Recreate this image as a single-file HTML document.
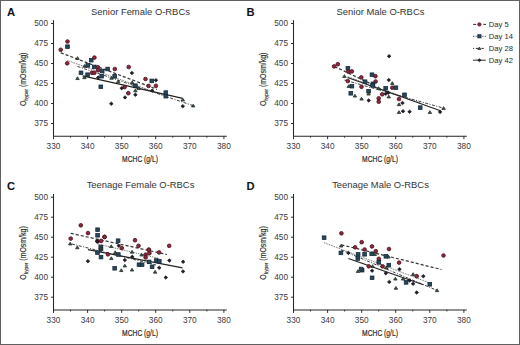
<!DOCTYPE html>
<html><head><meta charset="utf-8"><style>
html,body{margin:0;padding:0;background:#fff;}
.f{position:relative;width:520px;height:345px;box-sizing:border-box;border:1px solid #606060;overflow:hidden;background:#fff;}
svg{position:absolute;left:-1px;top:-1px;}
text{font-family:"Liberation Sans", sans-serif;}
</style></head><body><div class="f">
<svg width="520" height="345" viewBox="0 0 520 345" font-family='"Liberation Sans", sans-serif'>
<g transform="translate(0,0)">
<text x="7.1" y="16.2" font-size="11.2" font-weight="bold" fill="#111">A</text>
<text x="140.5" y="14.8" font-size="9.42" text-anchor="middle" fill="#333">Senior Female O-RBCs</text>
<path d="M53.5 20.2V136.2H226.8" fill="none" stroke="#262626" stroke-width="1.05"/>
<path d="M51 123.5H53.5" stroke="#1a1a1a" stroke-width="0.9"/>
<text x="48" y="126.3" font-size="8.25" text-anchor="end" fill="#3a3a3a">375</text>
<path d="M51 103.5H53.5" stroke="#1a1a1a" stroke-width="0.9"/>
<text x="48" y="106.3" font-size="8.25" text-anchor="end" fill="#3a3a3a">400</text>
<path d="M51 83.5H53.5" stroke="#1a1a1a" stroke-width="0.9"/>
<text x="48" y="86.3" font-size="8.25" text-anchor="end" fill="#3a3a3a">425</text>
<path d="M51 63.5H53.5" stroke="#1a1a1a" stroke-width="0.9"/>
<text x="48" y="66.3" font-size="8.25" text-anchor="end" fill="#3a3a3a">450</text>
<path d="M51 43.5H53.5" stroke="#1a1a1a" stroke-width="0.9"/>
<text x="48" y="46.3" font-size="8.25" text-anchor="end" fill="#3a3a3a">475</text>
<path d="M51 23.5H53.5" stroke="#1a1a1a" stroke-width="0.9"/>
<text x="48" y="26.3" font-size="8.25" text-anchor="end" fill="#3a3a3a">500</text>
<path d="M53.5 136.2V139.2" stroke="#1a1a1a" stroke-width="0.9"/>
<text x="53.5" y="149.2" font-size="8.25" text-anchor="middle" fill="#3a3a3a">330</text>
<path d="M70.5 136.2V137.7" stroke="#1a1a1a" stroke-width="0.9"/>
<path d="M87.6 136.2V139.2" stroke="#1a1a1a" stroke-width="0.9"/>
<text x="87.6" y="149.2" font-size="8.25" text-anchor="middle" fill="#3a3a3a">340</text>
<path d="M104.6 136.2V137.7" stroke="#1a1a1a" stroke-width="0.9"/>
<path d="M121.7 136.2V139.2" stroke="#1a1a1a" stroke-width="0.9"/>
<text x="121.7" y="149.2" font-size="8.25" text-anchor="middle" fill="#3a3a3a">350</text>
<path d="M138.7 136.2V137.7" stroke="#1a1a1a" stroke-width="0.9"/>
<path d="M155.7 136.2V139.2" stroke="#1a1a1a" stroke-width="0.9"/>
<text x="155.7" y="149.2" font-size="8.25" text-anchor="middle" fill="#3a3a3a">360</text>
<path d="M172.8 136.2V137.7" stroke="#1a1a1a" stroke-width="0.9"/>
<path d="M189.8 136.2V139.2" stroke="#1a1a1a" stroke-width="0.9"/>
<text x="189.8" y="149.2" font-size="8.25" text-anchor="middle" fill="#3a3a3a">370</text>
<path d="M206.9 136.2V137.7" stroke="#1a1a1a" stroke-width="0.9"/>
<path d="M223.9 136.2V139.2" stroke="#1a1a1a" stroke-width="0.9"/>
<text x="223.9" y="149.2" font-size="8.25" text-anchor="middle" fill="#3a3a3a">380</text>
<text x="0" y="0" font-size="8.4" text-anchor="middle" fill="#2a2a2a" stroke="#2a2a2a" stroke-width="0.2" transform="translate(140,161.9) scale(0.8,1)">MCHC (g/L)</text>
<text x="0" y="0" font-size="9" text-anchor="middle" fill="#2a2a2a" stroke="#2a2a2a" stroke-width="0.15" transform="translate(26.3,79.3) rotate(-90) scale(0.775,1)">O<tspan font-size="6" dy="1.6">hyper</tspan><tspan dy="-1.6"> (mOsm/kg)</tspan></text>
</g>
<path d="M60.8 52.8L157 89.3" stroke="#383838" stroke-width="1.25" stroke-dasharray="3.1 2.0"/>
<path d="M67.5 60.5L165.8 96" stroke="#555" stroke-width="0.95" stroke-dasharray="0.9 0.9"/>
<path d="M77.5 66.4L193.2 105.7" stroke="#333" stroke-width="0.95" stroke-dasharray="3 1.5 1 1.5"/>
<path d="M82.6 75.9L182.8 98.3" stroke="#222" stroke-width="1.2"/>
<circle cx="67.5" cy="41.5" r="1.85" fill="#8a2a3b" stroke="#4e0f1f" stroke-width="0.8"/>
<rect x="65.65" y="44.90" width="3.7" height="3.6" fill="#25485d" stroke="#132536" stroke-width="0.75"/>
<circle cx="60.7" cy="49.8" r="1.85" fill="#8a2a3b" stroke="#4e0f1f" stroke-width="0.8"/>
<circle cx="67.2" cy="63.3" r="1.85" fill="#8a2a3b" stroke="#4e0f1f" stroke-width="0.8"/>
<path d="M77.50 56.65L79.25 59.45L75.75 59.45Z" fill="#3e5a46" stroke="#1c2a20" stroke-width="0.75" stroke-linejoin="round"/>
<circle cx="94.4" cy="57.6" r="1.85" fill="#8a2a3b" stroke="#4e0f1f" stroke-width="0.8"/>
<rect x="89.35" y="58.40" width="3.7" height="3.6" fill="#25485d" stroke="#132536" stroke-width="0.75"/>
<path d="M84.60 64.45L86.35 67.25L82.85 67.25Z" fill="#3e5a46" stroke="#1c2a20" stroke-width="0.75" stroke-linejoin="round"/>
<rect x="85.95" y="63.60" width="3.7" height="3.6" fill="#25485d" stroke="#132536" stroke-width="0.75"/>
<rect x="92.45" y="65.10" width="3.7" height="3.6" fill="#25485d" stroke="#132536" stroke-width="0.75"/>
<circle cx="98.0" cy="67.3" r="1.85" fill="#8a2a3b" stroke="#4e0f1f" stroke-width="0.8"/>
<circle cx="98.1" cy="70.2" r="1.85" fill="#8a2a3b" stroke="#4e0f1f" stroke-width="0.8"/>
<rect x="100.35" y="69.20" width="3.7" height="3.6" fill="#25485d" stroke="#132536" stroke-width="0.75"/>
<rect x="105.85" y="67.20" width="3.7" height="3.6" fill="#25485d" stroke="#132536" stroke-width="0.75"/>
<circle cx="114.8" cy="69.0" r="1.85" fill="#8a2a3b" stroke="#4e0f1f" stroke-width="0.8"/>
<rect x="79.15" y="71.00" width="3.7" height="3.6" fill="#25485d" stroke="#132536" stroke-width="0.75"/>
<circle cx="92.0" cy="72.8" r="1.85" fill="#8a2a3b" stroke="#4e0f1f" stroke-width="0.8"/>
<circle cx="94.4" cy="72.8" r="1.85" fill="#8a2a3b" stroke="#4e0f1f" stroke-width="0.8"/>
<rect x="85.75" y="72.90" width="3.7" height="3.6" fill="#25485d" stroke="#132536" stroke-width="0.75"/>
<rect x="99.85" y="74.40" width="3.7" height="3.6" fill="#25485d" stroke="#132536" stroke-width="0.75"/>
<path d="M98.20 75.85L100.05 77.60L98.20 79.35L96.35 77.60Z" fill="#241a2a" stroke="#100b12" stroke-width="0.6" stroke-linejoin="round"/>
<path d="M77.50 76.75L79.25 79.55L75.75 79.55Z" fill="#3e5a46" stroke="#1c2a20" stroke-width="0.75" stroke-linejoin="round"/>
<path d="M84.40 75.85L86.15 78.65L82.65 78.65Z" fill="#3e5a46" stroke="#1c2a20" stroke-width="0.75" stroke-linejoin="round"/>
<path d="M111.50 76.45L113.25 79.25L109.75 79.25Z" fill="#3e5a46" stroke="#1c2a20" stroke-width="0.75" stroke-linejoin="round"/>
<rect x="112.85" y="74.50" width="3.7" height="3.6" fill="#25485d" stroke="#132536" stroke-width="0.75"/>
<path d="M118.20 80.05L119.95 82.85L116.45 82.85Z" fill="#3e5a46" stroke="#1c2a20" stroke-width="0.75" stroke-linejoin="round"/>
<rect x="98.95" y="85.00" width="3.7" height="3.6" fill="#25485d" stroke="#132536" stroke-width="0.75"/>
<circle cx="128.7" cy="67.0" r="1.85" fill="#8a2a3b" stroke="#4e0f1f" stroke-width="0.8"/>
<path d="M131.90 71.25L133.75 73.00L131.90 74.75L130.05 73.00Z" fill="#241a2a" stroke="#100b12" stroke-width="0.6" stroke-linejoin="round"/>
<circle cx="145.5" cy="79.0" r="1.85" fill="#8a2a3b" stroke="#4e0f1f" stroke-width="0.8"/>
<rect x="149.95" y="79.10" width="3.7" height="3.6" fill="#25485d" stroke="#132536" stroke-width="0.75"/>
<path d="M155.90 78.45L157.75 80.20L155.90 81.95L154.05 80.20Z" fill="#241a2a" stroke="#100b12" stroke-width="0.6" stroke-linejoin="round"/>
<rect x="133.55" y="83.90" width="3.7" height="3.6" fill="#25485d" stroke="#132536" stroke-width="0.75"/>
<path d="M132.20 80.85L133.95 83.65L130.45 83.65Z" fill="#3e5a46" stroke="#1c2a20" stroke-width="0.75" stroke-linejoin="round"/>
<circle cx="148.5" cy="85.9" r="1.85" fill="#8a2a3b" stroke="#4e0f1f" stroke-width="0.8"/>
<circle cx="155.9" cy="85.8" r="1.85" fill="#8a2a3b" stroke="#4e0f1f" stroke-width="0.8"/>
<circle cx="124.6" cy="87.1" r="1.85" fill="#8a2a3b" stroke="#4e0f1f" stroke-width="0.8"/>
<path d="M121.70 86.45L123.55 88.20L121.70 89.95L119.85 88.20Z" fill="#241a2a" stroke="#100b12" stroke-width="0.6" stroke-linejoin="round"/>
<path d="M138.70 86.75L140.45 89.55L136.95 89.55Z" fill="#3e5a46" stroke="#1c2a20" stroke-width="0.75" stroke-linejoin="round"/>
<path d="M152.20 88.85L154.05 90.60L152.20 92.35L150.35 90.60Z" fill="#241a2a" stroke="#100b12" stroke-width="0.6" stroke-linejoin="round"/>
<path d="M135.40 89.05L137.15 91.85L133.65 91.85Z" fill="#3e5a46" stroke="#1c2a20" stroke-width="0.75" stroke-linejoin="round"/>
<circle cx="128.3" cy="93.2" r="1.85" fill="#8a2a3b" stroke="#4e0f1f" stroke-width="0.8"/>
<path d="M135.40 93.05L137.25 94.80L135.40 96.55L133.55 94.80Z" fill="#241a2a" stroke="#100b12" stroke-width="0.6" stroke-linejoin="round"/>
<rect x="163.95" y="90.80" width="3.7" height="3.6" fill="#25485d" stroke="#132536" stroke-width="0.75"/>
<rect x="163.95" y="94.40" width="3.7" height="3.6" fill="#25485d" stroke="#132536" stroke-width="0.75"/>
<path d="M125.00 95.65L126.85 97.40L125.00 99.15L123.15 97.40Z" fill="#241a2a" stroke="#100b12" stroke-width="0.6" stroke-linejoin="round"/>
<path d="M111.30 101.95L113.15 103.70L111.30 105.45L109.45 103.70Z" fill="#241a2a" stroke="#100b12" stroke-width="0.6" stroke-linejoin="round"/>
<path d="M182.80 98.15L184.55 100.95L181.05 100.95Z" fill="#3e5a46" stroke="#1c2a20" stroke-width="0.75" stroke-linejoin="round"/>
<path d="M182.80 104.45L184.65 106.20L182.80 107.95L180.95 106.20Z" fill="#241a2a" stroke="#100b12" stroke-width="0.6" stroke-linejoin="round"/>
<path d="M193.20 104.15L194.95 106.95L191.45 106.95Z" fill="#3e5a46" stroke="#1c2a20" stroke-width="0.75" stroke-linejoin="round"/>
<g transform="translate(240,0)">
<text x="6.6" y="16.2" font-size="11.2" font-weight="bold" fill="#111">B</text>
<text x="140.5" y="14.8" font-size="9.42" text-anchor="middle" fill="#333">Senior Male O-RBCs</text>
<path d="M53.5 20.2V136.2H226.8" fill="none" stroke="#262626" stroke-width="1.05"/>
<path d="M51 123.5H53.5" stroke="#1a1a1a" stroke-width="0.9"/>
<text x="48" y="126.3" font-size="8.25" text-anchor="end" fill="#3a3a3a">375</text>
<path d="M51 103.5H53.5" stroke="#1a1a1a" stroke-width="0.9"/>
<text x="48" y="106.3" font-size="8.25" text-anchor="end" fill="#3a3a3a">400</text>
<path d="M51 83.5H53.5" stroke="#1a1a1a" stroke-width="0.9"/>
<text x="48" y="86.3" font-size="8.25" text-anchor="end" fill="#3a3a3a">425</text>
<path d="M51 63.5H53.5" stroke="#1a1a1a" stroke-width="0.9"/>
<text x="48" y="66.3" font-size="8.25" text-anchor="end" fill="#3a3a3a">450</text>
<path d="M51 43.5H53.5" stroke="#1a1a1a" stroke-width="0.9"/>
<text x="48" y="46.3" font-size="8.25" text-anchor="end" fill="#3a3a3a">475</text>
<path d="M51 23.5H53.5" stroke="#1a1a1a" stroke-width="0.9"/>
<text x="48" y="26.3" font-size="8.25" text-anchor="end" fill="#3a3a3a">500</text>
<path d="M53.5 136.2V139.2" stroke="#1a1a1a" stroke-width="0.9"/>
<text x="53.5" y="149.2" font-size="8.25" text-anchor="middle" fill="#3a3a3a">330</text>
<path d="M70.5 136.2V137.7" stroke="#1a1a1a" stroke-width="0.9"/>
<path d="M87.6 136.2V139.2" stroke="#1a1a1a" stroke-width="0.9"/>
<text x="87.6" y="149.2" font-size="8.25" text-anchor="middle" fill="#3a3a3a">340</text>
<path d="M104.6 136.2V137.7" stroke="#1a1a1a" stroke-width="0.9"/>
<path d="M121.7 136.2V139.2" stroke="#1a1a1a" stroke-width="0.9"/>
<text x="121.7" y="149.2" font-size="8.25" text-anchor="middle" fill="#3a3a3a">350</text>
<path d="M138.7 136.2V137.7" stroke="#1a1a1a" stroke-width="0.9"/>
<path d="M155.7 136.2V139.2" stroke="#1a1a1a" stroke-width="0.9"/>
<text x="155.7" y="149.2" font-size="8.25" text-anchor="middle" fill="#3a3a3a">360</text>
<path d="M172.8 136.2V137.7" stroke="#1a1a1a" stroke-width="0.9"/>
<path d="M189.8 136.2V139.2" stroke="#1a1a1a" stroke-width="0.9"/>
<text x="189.8" y="149.2" font-size="8.25" text-anchor="middle" fill="#3a3a3a">370</text>
<path d="M206.9 136.2V137.7" stroke="#1a1a1a" stroke-width="0.9"/>
<path d="M223.9 136.2V139.2" stroke="#1a1a1a" stroke-width="0.9"/>
<text x="223.9" y="149.2" font-size="8.25" text-anchor="middle" fill="#3a3a3a">380</text>
<text x="0" y="0" font-size="8.4" text-anchor="middle" fill="#2a2a2a" stroke="#2a2a2a" stroke-width="0.2" transform="translate(140,161.9) scale(0.8,1)">MCHC (g/L)</text>
<text x="0" y="0" font-size="9" text-anchor="middle" fill="#2a2a2a" stroke="#2a2a2a" stroke-width="0.15" transform="translate(26.3,79.3) rotate(-90) scale(0.775,1)">O<tspan font-size="6" dy="1.6">hyper</tspan><tspan dy="-1.6"> (mOsm/kg)</tspan></text>
</g>
<path d="M334.5 66.5L372 84.3" stroke="#383838" stroke-width="1.25" stroke-dasharray="3.1 2.0"/>
<path d="M347.9 76.8L420.2 103.0" stroke="#555" stroke-width="0.95" stroke-dasharray="0.9 0.9"/>
<path d="M344.4 80.0L443.6 108.2" stroke="#333" stroke-width="0.95" stroke-dasharray="3 1.5 1 1.5"/>
<path d="M347.5 77.5L440.5 110.8" stroke="#222" stroke-width="1.2"/>
<circle cx="334.1" cy="66.4" r="1.85" fill="#8a2a3b" stroke="#4e0f1f" stroke-width="0.8"/>
<circle cx="337.8" cy="64.2" r="1.85" fill="#8a2a3b" stroke="#4e0f1f" stroke-width="0.8"/>
<rect x="346.05" y="66.50" width="3.7" height="3.6" fill="#25485d" stroke="#132536" stroke-width="0.75"/>
<circle cx="348.3" cy="71.6" r="1.85" fill="#8a2a3b" stroke="#4e0f1f" stroke-width="0.8"/>
<circle cx="351.8" cy="71.4" r="1.85" fill="#8a2a3b" stroke="#4e0f1f" stroke-width="0.8"/>
<path d="M344.40 74.65L346.15 77.45L342.65 77.45Z" fill="#3e5a46" stroke="#1c2a20" stroke-width="0.75" stroke-linejoin="round"/>
<circle cx="347.8" cy="81.0" r="1.85" fill="#8a2a3b" stroke="#4e0f1f" stroke-width="0.8"/>
<circle cx="361.3" cy="77.4" r="1.85" fill="#8a2a3b" stroke="#4e0f1f" stroke-width="0.8"/>
<rect x="370.15" y="72.90" width="3.7" height="3.6" fill="#25485d" stroke="#132536" stroke-width="0.75"/>
<circle cx="375.4" cy="76.2" r="1.85" fill="#8a2a3b" stroke="#4e0f1f" stroke-width="0.8"/>
<rect x="363.15" y="79.90" width="3.7" height="3.6" fill="#25485d" stroke="#132536" stroke-width="0.75"/>
<circle cx="375.6" cy="81.5" r="1.85" fill="#8a2a3b" stroke="#4e0f1f" stroke-width="0.8"/>
<rect x="371.15" y="82.00" width="3.7" height="3.6" fill="#25485d" stroke="#132536" stroke-width="0.75"/>
<rect x="370.75" y="83.60" width="3.7" height="3.6" fill="#25485d" stroke="#132536" stroke-width="0.75"/>
<path d="M378.60 86.75L380.35 89.55L376.85 89.55Z" fill="#3e5a46" stroke="#1c2a20" stroke-width="0.75" stroke-linejoin="round"/>
<path d="M389.10 54.45L390.95 56.20L389.10 57.95L387.25 56.20Z" fill="#241a2a" stroke="#100b12" stroke-width="0.6" stroke-linejoin="round"/>
<path d="M388.80 78.35L390.65 80.10L388.80 81.85L386.95 80.10Z" fill="#241a2a" stroke="#100b12" stroke-width="0.6" stroke-linejoin="round"/>
<path d="M392.30 81.65L394.05 84.45L390.55 84.45Z" fill="#3e5a46" stroke="#1c2a20" stroke-width="0.75" stroke-linejoin="round"/>
<circle cx="392.3" cy="87.7" r="1.85" fill="#8a2a3b" stroke="#4e0f1f" stroke-width="0.8"/>
<rect x="394.05" y="85.90" width="3.7" height="3.6" fill="#25485d" stroke="#132536" stroke-width="0.75"/>
<rect x="383.85" y="86.50" width="3.7" height="3.6" fill="#25485d" stroke="#132536" stroke-width="0.75"/>
<path d="M388.30 91.05L390.15 92.80L388.30 94.55L386.45 92.80Z" fill="#241a2a" stroke="#100b12" stroke-width="0.6" stroke-linejoin="round"/>
<circle cx="382.2" cy="94.3" r="1.85" fill="#8a2a3b" stroke="#4e0f1f" stroke-width="0.8"/>
<path d="M385.70 92.05L387.55 93.80L385.70 95.55L383.85 93.80Z" fill="#241a2a" stroke="#100b12" stroke-width="0.6" stroke-linejoin="round"/>
<path d="M388.80 95.15L390.55 97.95L387.05 97.95Z" fill="#3e5a46" stroke="#1c2a20" stroke-width="0.75" stroke-linejoin="round"/>
<circle cx="378.7" cy="98.3" r="1.85" fill="#8a2a3b" stroke="#4e0f1f" stroke-width="0.8"/>
<circle cx="378.7" cy="101.7" r="1.85" fill="#8a2a3b" stroke="#4e0f1f" stroke-width="0.8"/>
<rect x="402.65" y="93.00" width="3.7" height="3.6" fill="#25485d" stroke="#132536" stroke-width="0.75"/>
<circle cx="399.0" cy="99.0" r="1.85" fill="#8a2a3b" stroke="#4e0f1f" stroke-width="0.8"/>
<path d="M402.50 101.25L404.35 103.00L402.50 104.75L400.65 103.00Z" fill="#241a2a" stroke="#100b12" stroke-width="0.6" stroke-linejoin="round"/>
<path d="M399.00 102.85L400.75 105.65L397.25 105.65Z" fill="#3e5a46" stroke="#1c2a20" stroke-width="0.75" stroke-linejoin="round"/>
<path d="M399.00 110.65L400.75 113.45L397.25 113.45Z" fill="#3e5a46" stroke="#1c2a20" stroke-width="0.75" stroke-linejoin="round"/>
<path d="M403.00 109.45L404.85 111.20L403.00 112.95L401.15 111.20Z" fill="#241a2a" stroke="#100b12" stroke-width="0.6" stroke-linejoin="round"/>
<path d="M409.60 109.95L411.45 111.70L409.60 113.45L407.75 111.70Z" fill="#241a2a" stroke="#100b12" stroke-width="0.6" stroke-linejoin="round"/>
<rect x="418.35" y="105.80" width="3.7" height="3.6" fill="#25485d" stroke="#132536" stroke-width="0.75"/>
<path d="M429.90 110.65L431.65 113.45L428.15 113.45Z" fill="#3e5a46" stroke="#1c2a20" stroke-width="0.75" stroke-linejoin="round"/>
<path d="M440.10 110.15L441.95 111.90L440.10 113.65L438.25 111.90Z" fill="#241a2a" stroke="#100b12" stroke-width="0.6" stroke-linejoin="round"/>
<path d="M443.60 106.65L445.35 109.45L441.85 109.45Z" fill="#3e5a46" stroke="#1c2a20" stroke-width="0.75" stroke-linejoin="round"/>
<path d="M348.80 84.65L350.55 87.45L347.05 87.45Z" fill="#3e5a46" stroke="#1c2a20" stroke-width="0.75" stroke-linejoin="round"/>
<rect x="350.05" y="84.40" width="3.7" height="3.6" fill="#25485d" stroke="#132536" stroke-width="0.75"/>
<circle cx="361.5" cy="86.8" r="1.85" fill="#8a2a3b" stroke="#4e0f1f" stroke-width="0.8"/>
<rect x="348.95" y="91.50" width="3.7" height="3.6" fill="#25485d" stroke="#132536" stroke-width="0.75"/>
<path d="M354.90 94.25L356.65 97.05L353.15 97.05Z" fill="#3e5a46" stroke="#1c2a20" stroke-width="0.75" stroke-linejoin="round"/>
<rect x="366.75" y="89.40" width="3.7" height="3.6" fill="#25485d" stroke="#132536" stroke-width="0.75"/>
<path d="M368.60 92.25L370.35 95.05L366.85 95.05Z" fill="#3e5a46" stroke="#1c2a20" stroke-width="0.75" stroke-linejoin="round"/>
<path d="M361.50 97.25L363.25 100.05L359.75 100.05Z" fill="#3e5a46" stroke="#1c2a20" stroke-width="0.75" stroke-linejoin="round"/>
<path d="M368.70 98.65L370.55 100.40L368.70 102.15L366.85 100.40Z" fill="#241a2a" stroke="#100b12" stroke-width="0.6" stroke-linejoin="round"/>
<g transform="translate(0,173.7)">
<text x="7.1" y="16.2" font-size="11.2" font-weight="bold" fill="#111">C</text>
<text x="140.5" y="14.8" font-size="9.42" text-anchor="middle" fill="#333">Teenage Female O-RBCs</text>
<path d="M53.5 20.2V136.2H226.8" fill="none" stroke="#262626" stroke-width="1.05"/>
<path d="M51 123.5H53.5" stroke="#1a1a1a" stroke-width="0.9"/>
<text x="48" y="126.3" font-size="8.25" text-anchor="end" fill="#3a3a3a">375</text>
<path d="M51 103.5H53.5" stroke="#1a1a1a" stroke-width="0.9"/>
<text x="48" y="106.3" font-size="8.25" text-anchor="end" fill="#3a3a3a">400</text>
<path d="M51 83.5H53.5" stroke="#1a1a1a" stroke-width="0.9"/>
<text x="48" y="86.3" font-size="8.25" text-anchor="end" fill="#3a3a3a">425</text>
<path d="M51 63.5H53.5" stroke="#1a1a1a" stroke-width="0.9"/>
<text x="48" y="66.3" font-size="8.25" text-anchor="end" fill="#3a3a3a">450</text>
<path d="M51 43.5H53.5" stroke="#1a1a1a" stroke-width="0.9"/>
<text x="48" y="46.3" font-size="8.25" text-anchor="end" fill="#3a3a3a">475</text>
<path d="M51 23.5H53.5" stroke="#1a1a1a" stroke-width="0.9"/>
<text x="48" y="26.3" font-size="8.25" text-anchor="end" fill="#3a3a3a">500</text>
<path d="M53.5 136.2V139.2" stroke="#1a1a1a" stroke-width="0.9"/>
<text x="53.5" y="149.2" font-size="8.25" text-anchor="middle" fill="#3a3a3a">330</text>
<path d="M70.5 136.2V137.7" stroke="#1a1a1a" stroke-width="0.9"/>
<path d="M87.6 136.2V139.2" stroke="#1a1a1a" stroke-width="0.9"/>
<text x="87.6" y="149.2" font-size="8.25" text-anchor="middle" fill="#3a3a3a">340</text>
<path d="M104.6 136.2V137.7" stroke="#1a1a1a" stroke-width="0.9"/>
<path d="M121.7 136.2V139.2" stroke="#1a1a1a" stroke-width="0.9"/>
<text x="121.7" y="149.2" font-size="8.25" text-anchor="middle" fill="#3a3a3a">350</text>
<path d="M138.7 136.2V137.7" stroke="#1a1a1a" stroke-width="0.9"/>
<path d="M155.7 136.2V139.2" stroke="#1a1a1a" stroke-width="0.9"/>
<text x="155.7" y="149.2" font-size="8.25" text-anchor="middle" fill="#3a3a3a">360</text>
<path d="M172.8 136.2V137.7" stroke="#1a1a1a" stroke-width="0.9"/>
<path d="M189.8 136.2V139.2" stroke="#1a1a1a" stroke-width="0.9"/>
<text x="189.8" y="149.2" font-size="8.25" text-anchor="middle" fill="#3a3a3a">370</text>
<path d="M206.9 136.2V137.7" stroke="#1a1a1a" stroke-width="0.9"/>
<path d="M223.9 136.2V139.2" stroke="#1a1a1a" stroke-width="0.9"/>
<text x="223.9" y="149.2" font-size="8.25" text-anchor="middle" fill="#3a3a3a">380</text>
<text x="0" y="0" font-size="8.4" text-anchor="middle" fill="#2a2a2a" stroke="#2a2a2a" stroke-width="0.2" transform="translate(140,161.9) scale(0.8,1)">MCHC (g/L)</text>
<text x="0" y="0" font-size="9" text-anchor="middle" fill="#2a2a2a" stroke="#2a2a2a" stroke-width="0.15" transform="translate(26.3,79.3) rotate(-90) scale(0.775,1)">O<tspan font-size="6" dy="1.6">hyper</tspan><tspan dy="-1.6"> (mOsm/kg)</tspan></text>
</g>
<path d="M70.7 233.3L167 254.5" stroke="#383838" stroke-width="1.25" stroke-dasharray="3.1 2.0"/>
<path d="M97.6 244L159.3 258.5" stroke="#555" stroke-width="0.95" stroke-dasharray="0.9 0.9"/>
<path d="M72 244L156 265" stroke="#333" stroke-width="0.95" stroke-dasharray="3 1.5 1 1.5"/>
<path d="M88 249.6L182.5 267.8" stroke="#222" stroke-width="1.2"/>
<circle cx="80.8" cy="225.3" r="1.85" fill="#8a2a3b" stroke="#4e0f1f" stroke-width="0.8"/>
<circle cx="88.0" cy="233.1" r="1.85" fill="#8a2a3b" stroke="#4e0f1f" stroke-width="0.8"/>
<circle cx="70.7" cy="238.6" r="1.85" fill="#8a2a3b" stroke="#4e0f1f" stroke-width="0.8"/>
<rect x="95.75" y="227.90" width="3.7" height="3.6" fill="#25485d" stroke="#132536" stroke-width="0.75"/>
<rect x="95.75" y="233.50" width="3.7" height="3.6" fill="#25485d" stroke="#132536" stroke-width="0.75"/>
<circle cx="104.5" cy="236.8" r="1.85" fill="#8a2a3b" stroke="#4e0f1f" stroke-width="0.8"/>
<circle cx="97.6" cy="241.4" r="1.85" fill="#8a2a3b" stroke="#4e0f1f" stroke-width="0.8"/>
<circle cx="101.1" cy="240.9" r="1.85" fill="#8a2a3b" stroke="#4e0f1f" stroke-width="0.8"/>
<path d="M70.20 242.15L71.95 244.95L68.45 244.95Z" fill="#3e5a46" stroke="#1c2a20" stroke-width="0.75" stroke-linejoin="round"/>
<path d="M77.30 245.95L79.05 248.75L75.55 248.75Z" fill="#3e5a46" stroke="#1c2a20" stroke-width="0.75" stroke-linejoin="round"/>
<path d="M100.60 246.45L102.35 249.25L98.85 249.25Z" fill="#3e5a46" stroke="#1c2a20" stroke-width="0.75" stroke-linejoin="round"/>
<circle cx="104.6" cy="237.0" r="1.85" fill="#8a2a3b" stroke="#4e0f1f" stroke-width="0.8"/>
<rect x="116.25" y="238.90" width="3.7" height="3.6" fill="#25485d" stroke="#132536" stroke-width="0.75"/>
<path d="M118.80 244.05L120.65 245.80L118.80 247.55L116.95 245.80Z" fill="#241a2a" stroke="#100b12" stroke-width="0.6" stroke-linejoin="round"/>
<circle cx="121.8" cy="248.1" r="1.85" fill="#8a2a3b" stroke="#4e0f1f" stroke-width="0.8"/>
<path d="M111.20 244.75L112.95 247.55L109.45 247.55Z" fill="#3e5a46" stroke="#1c2a20" stroke-width="0.75" stroke-linejoin="round"/>
<rect x="99.15" y="247.00" width="3.7" height="3.6" fill="#25485d" stroke="#132536" stroke-width="0.75"/>
<circle cx="135.0" cy="240.2" r="1.85" fill="#8a2a3b" stroke="#4e0f1f" stroke-width="0.8"/>
<circle cx="138.5" cy="245.8" r="1.85" fill="#8a2a3b" stroke="#4e0f1f" stroke-width="0.8"/>
<circle cx="148.7" cy="249.8" r="1.85" fill="#8a2a3b" stroke="#4e0f1f" stroke-width="0.8"/>
<circle cx="145.6" cy="254.6" r="1.85" fill="#8a2a3b" stroke="#4e0f1f" stroke-width="0.8"/>
<circle cx="107.9" cy="254.3" r="1.85" fill="#8a2a3b" stroke="#4e0f1f" stroke-width="0.8"/>
<rect x="116.45" y="252.70" width="3.7" height="3.6" fill="#25485d" stroke="#132536" stroke-width="0.75"/>
<path d="M115.20 250.85L116.95 253.65L113.45 253.65Z" fill="#3e5a46" stroke="#1c2a20" stroke-width="0.75" stroke-linejoin="round"/>
<path d="M132.00 250.35L133.75 253.15L130.25 253.15Z" fill="#3e5a46" stroke="#1c2a20" stroke-width="0.75" stroke-linejoin="round"/>
<path d="M141.60 253.25L143.35 256.05L139.85 256.05Z" fill="#3e5a46" stroke="#1c2a20" stroke-width="0.75" stroke-linejoin="round"/>
<rect x="99.15" y="255.30" width="3.7" height="3.6" fill="#25485d" stroke="#132536" stroke-width="0.75"/>
<path d="M111.30 256.75L113.05 259.55L109.55 259.55Z" fill="#3e5a46" stroke="#1c2a20" stroke-width="0.75" stroke-linejoin="round"/>
<path d="M132.30 255.05L134.15 256.80L132.30 258.55L130.45 256.80Z" fill="#241a2a" stroke="#100b12" stroke-width="0.6" stroke-linejoin="round"/>
<circle cx="169.2" cy="245.8" r="1.85" fill="#8a2a3b" stroke="#4e0f1f" stroke-width="0.8"/>
<circle cx="148.9" cy="249.7" r="1.85" fill="#8a2a3b" stroke="#4e0f1f" stroke-width="0.8"/>
<circle cx="145.6" cy="257.4" r="1.85" fill="#8a2a3b" stroke="#4e0f1f" stroke-width="0.8"/>
<circle cx="159.1" cy="252.4" r="1.85" fill="#8a2a3b" stroke="#4e0f1f" stroke-width="0.8"/>
<rect x="147.25" y="260.10" width="3.7" height="3.6" fill="#25485d" stroke="#132536" stroke-width="0.75"/>
<rect x="154.35" y="258.70" width="3.7" height="3.6" fill="#25485d" stroke="#132536" stroke-width="0.75"/>
<rect x="157.45" y="259.50" width="3.7" height="3.6" fill="#25485d" stroke="#132536" stroke-width="0.75"/>
<path d="M169.40 258.75L171.25 260.50L169.40 262.25L167.55 260.50Z" fill="#241a2a" stroke="#100b12" stroke-width="0.6" stroke-linejoin="round"/>
<path d="M183.10 260.05L184.95 261.80L183.10 263.55L181.25 261.80Z" fill="#241a2a" stroke="#100b12" stroke-width="0.6" stroke-linejoin="round"/>
<circle cx="149.4" cy="253.2" r="1.85" fill="#8a2a3b" stroke="#4e0f1f" stroke-width="0.8"/>
<path d="M97.00 239.45L98.85 241.20L97.00 242.95L95.15 241.20Z" fill="#241a2a" stroke="#100b12" stroke-width="0.6" stroke-linejoin="round"/>
<rect x="98.95" y="245.20" width="3.7" height="3.6" fill="#25485d" stroke="#132536" stroke-width="0.75"/>
<rect x="95.65" y="250.80" width="3.7" height="3.6" fill="#25485d" stroke="#132536" stroke-width="0.75"/>
<path d="M101.10 246.45L102.85 249.25L99.35 249.25Z" fill="#3e5a46" stroke="#1c2a20" stroke-width="0.75" stroke-linejoin="round"/>
<path d="M87.90 259.45L89.75 261.20L87.90 262.95L86.05 261.20Z" fill="#241a2a" stroke="#100b12" stroke-width="0.6" stroke-linejoin="round"/>
<path d="M124.80 258.35L126.65 260.10L124.80 261.85L122.95 260.10Z" fill="#241a2a" stroke="#100b12" stroke-width="0.6" stroke-linejoin="round"/>
<path d="M124.80 264.15L126.55 266.95L123.05 266.95Z" fill="#3e5a46" stroke="#1c2a20" stroke-width="0.75" stroke-linejoin="round"/>
<rect x="112.85" y="266.50" width="3.7" height="3.6" fill="#25485d" stroke="#132536" stroke-width="0.75"/>
<path d="M121.30 268.75L123.05 271.55L119.55 271.55Z" fill="#3e5a46" stroke="#1c2a20" stroke-width="0.75" stroke-linejoin="round"/>
<path d="M132.00 268.25L133.75 271.05L130.25 271.05Z" fill="#3e5a46" stroke="#1c2a20" stroke-width="0.75" stroke-linejoin="round"/>
<rect x="137.15" y="262.90" width="3.7" height="3.6" fill="#25485d" stroke="#132536" stroke-width="0.75"/>
<rect x="140.25" y="262.90" width="3.7" height="3.6" fill="#25485d" stroke="#132536" stroke-width="0.75"/>
<rect x="150.25" y="265.00" width="3.7" height="3.6" fill="#25485d" stroke="#132536" stroke-width="0.75"/>
<path d="M159.20 266.05L161.05 267.80L159.20 269.55L157.35 267.80Z" fill="#241a2a" stroke="#100b12" stroke-width="0.6" stroke-linejoin="round"/>
<path d="M155.10 270.35L156.85 273.15L153.35 273.15Z" fill="#3e5a46" stroke="#1c2a20" stroke-width="0.75" stroke-linejoin="round"/>
<path d="M183.00 269.65L184.85 271.40L183.00 273.15L181.15 271.40Z" fill="#241a2a" stroke="#100b12" stroke-width="0.6" stroke-linejoin="round"/>
<path d="M165.80 275.75L167.65 277.50L165.80 279.25L163.95 277.50Z" fill="#241a2a" stroke="#100b12" stroke-width="0.6" stroke-linejoin="round"/>
<g transform="translate(240,173.7)">
<text x="6.6" y="16.2" font-size="11.2" font-weight="bold" fill="#111">D</text>
<text x="140.5" y="14.8" font-size="9.42" text-anchor="middle" fill="#333">Teenage Male O-RBCs</text>
<path d="M53.5 20.2V136.2H226.8" fill="none" stroke="#262626" stroke-width="1.05"/>
<path d="M51 123.5H53.5" stroke="#1a1a1a" stroke-width="0.9"/>
<text x="48" y="126.3" font-size="8.25" text-anchor="end" fill="#3a3a3a">375</text>
<path d="M51 103.5H53.5" stroke="#1a1a1a" stroke-width="0.9"/>
<text x="48" y="106.3" font-size="8.25" text-anchor="end" fill="#3a3a3a">400</text>
<path d="M51 83.5H53.5" stroke="#1a1a1a" stroke-width="0.9"/>
<text x="48" y="86.3" font-size="8.25" text-anchor="end" fill="#3a3a3a">425</text>
<path d="M51 63.5H53.5" stroke="#1a1a1a" stroke-width="0.9"/>
<text x="48" y="66.3" font-size="8.25" text-anchor="end" fill="#3a3a3a">450</text>
<path d="M51 43.5H53.5" stroke="#1a1a1a" stroke-width="0.9"/>
<text x="48" y="46.3" font-size="8.25" text-anchor="end" fill="#3a3a3a">475</text>
<path d="M51 23.5H53.5" stroke="#1a1a1a" stroke-width="0.9"/>
<text x="48" y="26.3" font-size="8.25" text-anchor="end" fill="#3a3a3a">500</text>
<path d="M53.5 136.2V139.2" stroke="#1a1a1a" stroke-width="0.9"/>
<text x="53.5" y="149.2" font-size="8.25" text-anchor="middle" fill="#3a3a3a">330</text>
<path d="M70.5 136.2V137.7" stroke="#1a1a1a" stroke-width="0.9"/>
<path d="M87.6 136.2V139.2" stroke="#1a1a1a" stroke-width="0.9"/>
<text x="87.6" y="149.2" font-size="8.25" text-anchor="middle" fill="#3a3a3a">340</text>
<path d="M104.6 136.2V137.7" stroke="#1a1a1a" stroke-width="0.9"/>
<path d="M121.7 136.2V139.2" stroke="#1a1a1a" stroke-width="0.9"/>
<text x="121.7" y="149.2" font-size="8.25" text-anchor="middle" fill="#3a3a3a">350</text>
<path d="M138.7 136.2V137.7" stroke="#1a1a1a" stroke-width="0.9"/>
<path d="M155.7 136.2V139.2" stroke="#1a1a1a" stroke-width="0.9"/>
<text x="155.7" y="149.2" font-size="8.25" text-anchor="middle" fill="#3a3a3a">360</text>
<path d="M172.8 136.2V137.7" stroke="#1a1a1a" stroke-width="0.9"/>
<path d="M189.8 136.2V139.2" stroke="#1a1a1a" stroke-width="0.9"/>
<text x="189.8" y="149.2" font-size="8.25" text-anchor="middle" fill="#3a3a3a">370</text>
<path d="M206.9 136.2V137.7" stroke="#1a1a1a" stroke-width="0.9"/>
<path d="M223.9 136.2V139.2" stroke="#1a1a1a" stroke-width="0.9"/>
<text x="223.9" y="149.2" font-size="8.25" text-anchor="middle" fill="#3a3a3a">380</text>
<text x="0" y="0" font-size="8.4" text-anchor="middle" fill="#2a2a2a" stroke="#2a2a2a" stroke-width="0.2" transform="translate(140,161.9) scale(0.8,1)">MCHC (g/L)</text>
<text x="0" y="0" font-size="9" text-anchor="middle" fill="#2a2a2a" stroke="#2a2a2a" stroke-width="0.15" transform="translate(26.3,79.3) rotate(-90) scale(0.775,1)">O<tspan font-size="6" dy="1.6">hyper</tspan><tspan dy="-1.6"> (mOsm/kg)</tspan></text>
</g>
<path d="M341.4 244.8L441.5 269.5" stroke="#383838" stroke-width="1.25" stroke-dasharray="3.1 2.0"/>
<path d="M324.1 242.7L429.8 283" stroke="#555" stroke-width="0.95" stroke-dasharray="0.9 0.9"/>
<path d="M341.2 250L437 290.4" stroke="#333" stroke-width="0.95" stroke-dasharray="3 1.5 1 1.5"/>
<path d="M348.4 258.5L423.3 284.8" stroke="#222" stroke-width="1.2"/>
<rect x="322.25" y="235.90" width="3.7" height="3.6" fill="#25485d" stroke="#132536" stroke-width="0.75"/>
<circle cx="341.4" cy="233.3" r="1.85" fill="#8a2a3b" stroke="#4e0f1f" stroke-width="0.8"/>
<circle cx="361.7" cy="242.2" r="1.85" fill="#8a2a3b" stroke="#4e0f1f" stroke-width="0.8"/>
<path d="M341.20 244.25L342.95 247.05L339.45 247.05Z" fill="#3e5a46" stroke="#1c2a20" stroke-width="0.75" stroke-linejoin="round"/>
<circle cx="355.1" cy="247.3" r="1.85" fill="#8a2a3b" stroke="#4e0f1f" stroke-width="0.8"/>
<circle cx="364.6" cy="249.5" r="1.85" fill="#8a2a3b" stroke="#4e0f1f" stroke-width="0.8"/>
<rect x="339.05" y="251.10" width="3.7" height="3.6" fill="#25485d" stroke="#132536" stroke-width="0.75"/>
<path d="M348.30 251.15L350.15 252.90L348.30 254.65L346.45 252.90Z" fill="#241a2a" stroke="#100b12" stroke-width="0.6" stroke-linejoin="round"/>
<rect x="356.25" y="252.60" width="3.7" height="3.6" fill="#25485d" stroke="#132536" stroke-width="0.75"/>
<rect x="355.95" y="256.70" width="3.7" height="3.6" fill="#25485d" stroke="#132536" stroke-width="0.75"/>
<circle cx="372.0" cy="246.4" r="1.85" fill="#8a2a3b" stroke="#4e0f1f" stroke-width="0.8"/>
<circle cx="375.8" cy="251.2" r="1.85" fill="#8a2a3b" stroke="#4e0f1f" stroke-width="0.8"/>
<circle cx="389.0" cy="249.0" r="1.85" fill="#8a2a3b" stroke="#4e0f1f" stroke-width="0.8"/>
<rect x="362.75" y="252.50" width="3.7" height="3.6" fill="#25485d" stroke="#132536" stroke-width="0.75"/>
<rect x="369.85" y="252.00" width="3.7" height="3.6" fill="#25485d" stroke="#132536" stroke-width="0.75"/>
<path d="M374.80 252.75L376.55 255.55L373.05 255.55Z" fill="#3e5a46" stroke="#1c2a20" stroke-width="0.75" stroke-linejoin="round"/>
<rect x="384.05" y="254.50" width="3.7" height="3.6" fill="#25485d" stroke="#132536" stroke-width="0.75"/>
<path d="M388.50 255.25L390.25 258.05L386.75 258.05Z" fill="#3e5a46" stroke="#1c2a20" stroke-width="0.75" stroke-linejoin="round"/>
<circle cx="378.8" cy="258.8" r="1.85" fill="#8a2a3b" stroke="#4e0f1f" stroke-width="0.8"/>
<rect x="376.95" y="260.60" width="3.7" height="3.6" fill="#25485d" stroke="#132536" stroke-width="0.75"/>
<circle cx="399.1" cy="262.6" r="1.85" fill="#8a2a3b" stroke="#4e0f1f" stroke-width="0.8"/>
<circle cx="368.7" cy="266.3" r="1.85" fill="#8a2a3b" stroke="#4e0f1f" stroke-width="0.8"/>
<path d="M372.60 264.65L374.35 267.45L370.85 267.45Z" fill="#3e5a46" stroke="#1c2a20" stroke-width="0.75" stroke-linejoin="round"/>
<circle cx="382.6" cy="266.4" r="1.85" fill="#8a2a3b" stroke="#4e0f1f" stroke-width="0.8"/>
<rect x="386.95" y="263.30" width="3.7" height="3.6" fill="#25485d" stroke="#132536" stroke-width="0.75"/>
<path d="M386.30 266.15L388.05 268.95L384.55 268.95Z" fill="#3e5a46" stroke="#1c2a20" stroke-width="0.75" stroke-linejoin="round"/>
<path d="M358.00 269.65L359.75 272.45L356.25 272.45Z" fill="#3e5a46" stroke="#1c2a20" stroke-width="0.75" stroke-linejoin="round"/>
<rect x="360.25" y="268.40" width="3.7" height="3.6" fill="#25485d" stroke="#132536" stroke-width="0.75"/>
<path d="M372.10 268.95L373.95 270.70L372.10 272.45L370.25 270.70Z" fill="#241a2a" stroke="#100b12" stroke-width="0.6" stroke-linejoin="round"/>
<path d="M385.80 271.55L387.65 273.30L385.80 275.05L383.95 273.30Z" fill="#241a2a" stroke="#100b12" stroke-width="0.6" stroke-linejoin="round"/>
<path d="M399.50 267.45L401.35 269.20L399.50 270.95L397.65 269.20Z" fill="#241a2a" stroke="#100b12" stroke-width="0.6" stroke-linejoin="round"/>
<rect x="370.25" y="276.00" width="3.7" height="3.6" fill="#25485d" stroke="#132536" stroke-width="0.75"/>
<path d="M395.40 277.25L397.15 280.05L393.65 280.05Z" fill="#3e5a46" stroke="#1c2a20" stroke-width="0.75" stroke-linejoin="round"/>
<path d="M389.30 280.15L391.15 281.90L389.30 283.65L387.45 281.90Z" fill="#241a2a" stroke="#100b12" stroke-width="0.6" stroke-linejoin="round"/>
<path d="M403.00 277.25L404.75 280.05L401.25 280.05Z" fill="#3e5a46" stroke="#1c2a20" stroke-width="0.75" stroke-linejoin="round"/>
<path d="M409.60 278.85L411.45 280.60L409.60 282.35L407.75 280.60Z" fill="#241a2a" stroke="#100b12" stroke-width="0.6" stroke-linejoin="round"/>
<rect x="404.25" y="280.60" width="3.7" height="3.6" fill="#25485d" stroke="#132536" stroke-width="0.75"/>
<path d="M413.10 272.65L414.85 275.45L411.35 275.45Z" fill="#3e5a46" stroke="#1c2a20" stroke-width="0.75" stroke-linejoin="round"/>
<circle cx="416.7" cy="276.2" r="1.85" fill="#8a2a3b" stroke="#4e0f1f" stroke-width="0.8"/>
<path d="M423.30 274.45L425.15 276.20L423.30 277.95L421.45 276.20Z" fill="#241a2a" stroke="#100b12" stroke-width="0.6" stroke-linejoin="round"/>
<path d="M413.10 282.05L414.95 283.80L413.10 285.55L411.25 283.80Z" fill="#241a2a" stroke="#100b12" stroke-width="0.6" stroke-linejoin="round"/>
<rect x="427.95" y="282.50" width="3.7" height="3.6" fill="#25485d" stroke="#132536" stroke-width="0.75"/>
<path d="M437.00 288.85L438.75 291.65L435.25 291.65Z" fill="#3e5a46" stroke="#1c2a20" stroke-width="0.75" stroke-linejoin="round"/>
<path d="M416.70 290.75L418.55 292.50L416.70 294.25L414.85 292.50Z" fill="#241a2a" stroke="#100b12" stroke-width="0.6" stroke-linejoin="round"/>
<path d="M395.90 286.45L397.65 289.25L394.15 289.25Z" fill="#3e5a46" stroke="#1c2a20" stroke-width="0.75" stroke-linejoin="round"/>
<circle cx="443.5" cy="255.5" r="1.85" fill="#8a2a3b" stroke="#4e0f1f" stroke-width="0.8"/>
<rect x="359.25" y="267.20" width="3.7" height="3.6" fill="#25485d" stroke="#132536" stroke-width="0.75"/>
<path d="M473.2 24.4H476.2M483.4 24.4H486" stroke="#2a2a2a" stroke-width="1.0"/>
<g transform="translate(479.4,24.4) scale(0.9) translate(-479.4,-24.4)"><circle cx="479.4" cy="24.4" r="1.85" fill="#8a2a3b" stroke="#4e0f1f" stroke-width="0.8"/></g>
<text x="488.8" y="26.75" font-size="7.6" fill="#2a2a2a">Day 5</text>
<path d="M473.2 36.3H474.2M475.6 36.3H476.6M482.4 36.3H483.4M484.8 36.3H485.8" stroke="#2a2a2a" stroke-width="1.0"/>
<g transform="translate(479.4,36.3) scale(0.9) translate(-479.4,-36.3)"><rect x="477.55" y="34.50" width="3.7" height="3.6" fill="#25485d" stroke="#132536" stroke-width="0.75"/></g>
<text x="488.8" y="38.65" font-size="7.6" fill="#2a2a2a">Day 14</text>
<path d="M473 48.4H474M475.8 48.4H478.4M481.4 48.4H483.8" stroke="#2a2a2a" stroke-width="1.0"/>
<g transform="translate(479.4,48.4) scale(0.9) translate(-479.4,-48.4)"><path d="M479.40 46.85L481.15 49.65L477.65 49.65Z" fill="#3e5a46" stroke="#1c2a20" stroke-width="0.75" stroke-linejoin="round"/></g>
<text x="488.8" y="50.75" font-size="7.6" fill="#2a2a2a">Day 28</text>
<path d="M473 60.2H485.8" stroke="#2a2a2a" stroke-width="1.0"/>
<g transform="translate(479.4,60.2) scale(0.9) translate(-479.4,-60.2)"><path d="M479.40 58.45L481.25 60.20L479.40 61.95L477.55 60.20Z" fill="#241a2a" stroke="#100b12" stroke-width="0.6" stroke-linejoin="round"/></g>
<text x="488.8" y="62.55" font-size="7.6" fill="#2a2a2a">Day 42</text>
</svg></div></body></html>
